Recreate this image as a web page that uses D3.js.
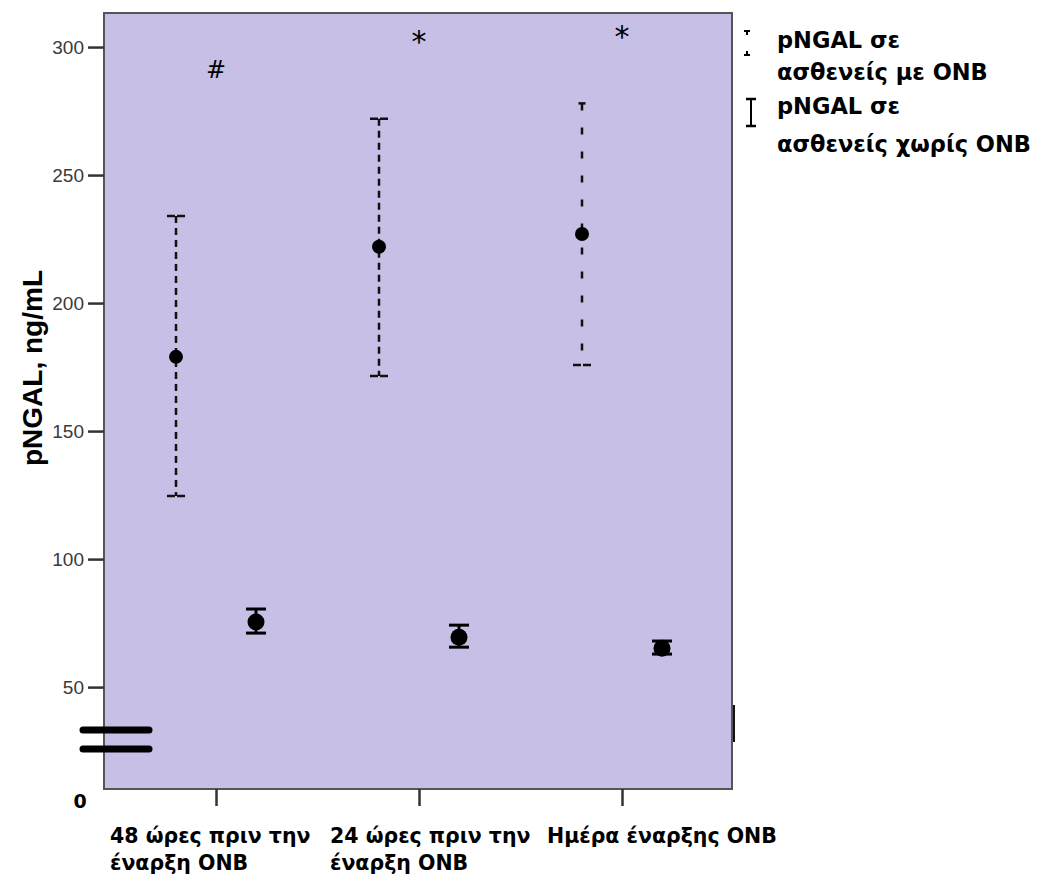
<!DOCTYPE html>
<html>
<head>
<meta charset="utf-8">
<script src="https://cdn.jsdelivr.net/npm/d3@7"></script>
<style>
  body { margin: 0; background: #fff; }
  svg { display: block; }
</style>
</head>
<body>
<div id="chart"></div>
<script>
// data
const categories = ["48h", "24h", "day0"];
const categoryLines = [
    ["48 ώρες πριν την", "έναρξη ONB"],
    ["24 ώρες πριν την", "έναρξη ONB"],
    ["Ημέρα έναρξης ONB"]
];
const onbMean = [179, 222, 227];
const onbLow = [124.6, 171.5, 175.8];
const onbHigh = [234, 272, 278];
const noOnbMean = [75.4, 69.5, 65.2];
const noOnbLow = [71.1, 65.6, 62.9];
const noOnbHigh = [80.5, 74.2, 68];
const marks = ["#", "*", "*"];
const markValues = [288, 298.1, 300];
const yTicks = [50, 100, 150, 200, 250, 300];
const legendLabels = [
    ["pNGAL σε", "ασθενείς με ONB"],
    ["pNGAL σε", "ασθενείς χωρίς ONB"]
];

// a few styling details per group
const dashPatterns = ["7,5", "7,5", "7,17"];
const topCapWidths = [18, 18, 7];
const labelShift = [-106, -89, -75];

const width = 1039;
const height = 877;
const plot = { left: 104, top: 13, right: 732, bottom: 789 };
const boldFont = "'DejaVu Sans', Verdana, sans-serif";

const svg = d3.select("#chart")
    .append("svg")
    .attr("width", width)
    .attr("height", height)
    .style("font-family", "'Liberation Sans', Arial, sans-serif");

const y = d3.scaleLinear()
    .domain([10.2, 313.3])
    .range([plot.bottom, plot.top]);

const x = d3.scalePoint()
    .domain(categories)
    .range([216, 622]);

const offset = 40;

// plot background
svg.append("rect")
    .attr("x", plot.left)
    .attr("y", plot.top)
    .attr("width", plot.right - plot.left)
    .attr("height", plot.bottom - plot.top)
    .attr("fill", "#C7BFE6")
    .attr("stroke", "#555")
    .attr("stroke-width", 2);

// right edge darker segment
svg.append("line")
    .attr("x1", plot.right + 2).attr("x2", plot.right + 2)
    .attr("y1", 705).attr("y2", 742)
    .attr("stroke", "#111")
    .attr("stroke-width", 2);

/*********************************************/
/*              axes                         */
/*********************************************/
const yAxis = svg.append("g")
    .attr("transform", `translate(${plot.left},0)`)
    .call(d3.axisLeft(y).tickValues(yTicks).tickSize(16).tickPadding(4));

yAxis.select(".domain").remove();
yAxis.selectAll(".tick line")
    .attr("stroke", "#333")
    .attr("stroke-width", 2.5);
yAxis.selectAll(".tick text")
    .attr("fill", "#3a3a3a")
    .style("font-size", "19px")
    .style("font-family", "'Liberation Sans', Arial, sans-serif");

const xAxis = svg.append("g")
    .attr("transform", `translate(0,${plot.bottom})`)
    .call(d3.axisBottom(x).tickSize(17).tickFormat(""));

xAxis.select(".domain").remove();
xAxis.selectAll(".tick line")
    .attr("stroke", "#333")
    .attr("stroke-width", 2.5);

// zero label at the broken axis
svg.append("text")
    .text("0")
    .attr("x", 80)
    .attr("y", 808)
    .attr("text-anchor", "middle")
    .style("font-size", "19px")
    .style("font-family", boldFont)
    .style("font-weight", "bold");

// axis break marks
[730, 749].forEach(yy => {
    svg.append("line")
        .attr("x1", 83).attr("x2", 149)
        .attr("y1", yy).attr("y2", yy)
        .attr("stroke", "#000")
        .attr("stroke-width", 7)
        .attr("stroke-linecap", "round");
});

// y axis title
svg.append("text")
    .text("pNGAL, ng/mL")
    .attr("transform", "translate(42,368) rotate(-90)")
    .attr("text-anchor", "middle")
    .style("font-size", "28px")
    .style("font-weight", "bold");

// category labels
categories.forEach((c, i) => {
    const t = svg.append("text")
        .attr("x", x(c) + labelShift[i])
        .attr("y", 843)
        .style("font-size", "20.5px")
        .style("font-family", boldFont)
        .style("font-weight", "bold");
    categoryLines[i].forEach((line, j) => {
        t.append("tspan")
            .attr("x", x(c) + labelShift[i])
            .attr("dy", j === 0 ? 0 : 27)
            .text(line);
    });
});

/*********************************************/
/*              error bars                   */
/*********************************************/
const onb = svg.append("g");
categories.forEach((c, i) => {
    const cx = x(c) - offset;
    onb.append("line")
        .attr("x1", cx).attr("x2", cx)
        .attr("y1", y(onbHigh[i])).attr("y2", y(onbLow[i]))
        .attr("stroke", "#111")
        .attr("stroke-width", 2.5)
        .attr("stroke-dasharray", dashPatterns[i]);
    onb.append("line")
        .attr("x1", cx - topCapWidths[i] / 2).attr("x2", cx + topCapWidths[i] / 2)
        .attr("y1", y(onbHigh[i])).attr("y2", y(onbHigh[i]))
        .attr("stroke", "#111")
        .attr("stroke-width", 2.5)
        .attr("stroke-dasharray", topCapWidths[i] > 10 ? "8,2" : null);
    onb.append("line")
        .attr("x1", cx - 9).attr("x2", cx + 9)
        .attr("y1", y(onbLow[i])).attr("y2", y(onbLow[i]))
        .attr("stroke", "#111")
        .attr("stroke-width", 2.5)
        .attr("stroke-dasharray", "8,2");
    onb.append("circle")
        .attr("cx", cx)
        .attr("cy", y(onbMean[i]))
        .attr("r", 7)
        .attr("fill", "#000");
});

const noOnb = svg.append("g");
categories.forEach((c, i) => {
    const cx = x(c) + offset;
    noOnb.append("line")
        .attr("x1", cx).attr("x2", cx)
        .attr("y1", y(noOnbHigh[i])).attr("y2", y(noOnbLow[i]))
        .attr("stroke", "#000")
        .attr("stroke-width", 3);
    [noOnbHigh[i], noOnbLow[i]].forEach(v => {
        noOnb.append("line")
            .attr("x1", cx - 10).attr("x2", cx + 10)
            .attr("y1", y(v)).attr("y2", y(v))
            .attr("stroke", "#000")
            .attr("stroke-width", 3);
    });
    noOnb.append("circle")
        .attr("cx", cx)
        .attr("cy", y(noOnbMean[i]))
        .attr("r", 8.5)
        .attr("fill", "#000");
});

// significance marks
categories.forEach((c, i) => {
    svg.append("text")
        .text(marks[i])
        .attr("x", x(c))
        .attr("y", y(markValues[i]))
        .attr("text-anchor", "middle")
        .style("font-size", marks[i] === "#" ? "24px" : "30px")
        .style("font-family", "'DejaVu Sans', sans-serif");
});

/*********************************************/
/*              legend                       */
/*********************************************/
const legend = svg.append("g");

// dashed icon
legend.append("line")
    .attr("x1", 744).attr("x2", 750).attr("y1", 31).attr("y2", 31)
    .attr("stroke", "#000").attr("stroke-width", 2);
legend.append("line")
    .attr("x1", 747).attr("x2", 747).attr("y1", 31).attr("y2", 55)
    .attr("stroke", "#000").attr("stroke-width", 2)
    .attr("stroke-dasharray", "4,20");
legend.append("line")
    .attr("x1", 744).attr("x2", 750).attr("y1", 55).attr("y2", 55)
    .attr("stroke", "#000").attr("stroke-width", 2);
legend.append("line")
    .attr("x1", 747).attr("x2", 747).attr("y1", 51).attr("y2", 55)
    .attr("stroke", "#000").attr("stroke-width", 2);

// solid icon
legend.append("line")
    .attr("x1", 751).attr("x2", 751).attr("y1", 99).attr("y2", 126)
    .attr("stroke", "#000").attr("stroke-width", 2);
[99, 126].forEach(yy => {
    legend.append("line")
        .attr("x1", 746).attr("x2", 756).attr("y1", yy).attr("y2", yy)
        .attr("stroke", "#000").attr("stroke-width", 2.5);
});

const legendY = [48, 114];
const legendGap = [32, 38];
legendLabels.forEach((lines, i) => {
    lines.forEach((line, j) => {
        legend.append("text")
            .text(line)
            .attr("x", 777)
            .attr("y", legendY[i] + j * legendGap[i])
            .style("font-size", "22.5px")
            .style("font-family", boldFont)
            .style("font-weight", "bold");
    });
});
</script>
</body>
</html>
